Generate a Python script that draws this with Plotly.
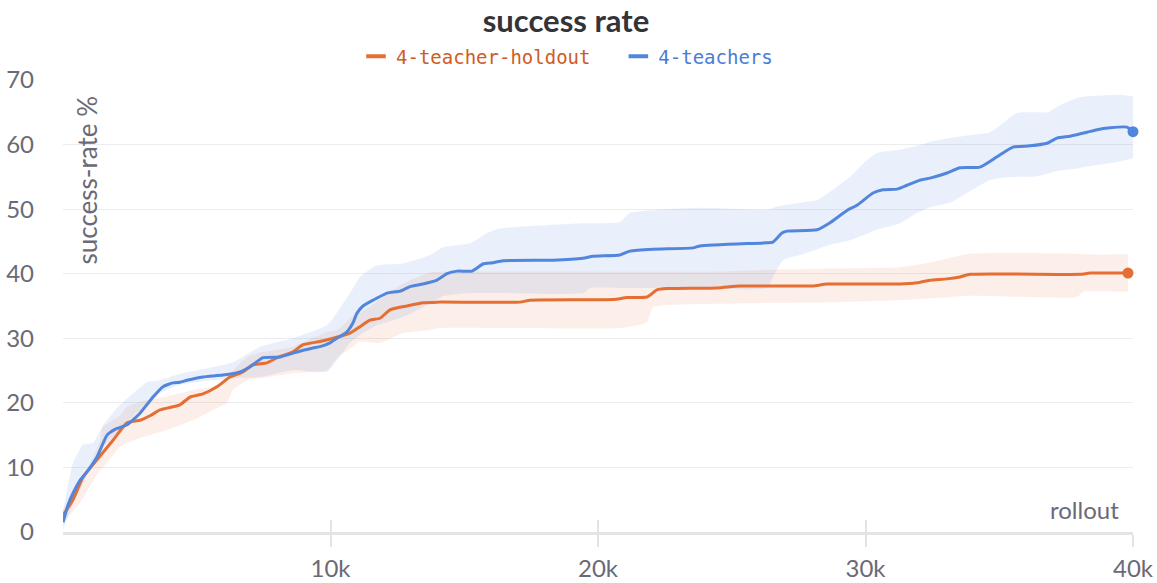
import plotly.graph_objects as go

# ---------------- data ----------------
holdout_x = [0, 374, 748, 1271, 1869, 2393, 2879, 3252, 3626, 4112, 4374, 4748, 5234, 5757,
             6243, 6729, 7103, 7626, 8000, 8598, 8972, 9607, 10093, 10729, 11103, 11477, 11850,
             12224, 12860, 13458, 13981, 17084, 17458, 20561, 21084, 21832, 22206, 22579, 24449,
             25308, 28037, 28561, 31290, 31925, 32411, 33047, 33533, 33907, 38019, 38393, 39813]
holdout_y = [2.6, 5.0, 8.5, 11.2, 14.2, 16.9, 17.3, 18.0, 18.9, 19.4, 19.7, 20.9, 21.4, 22.5,
             24.0, 24.8, 25.9, 26.2, 27.0, 27.9, 29.0, 29.5, 30.0, 30.8, 31.8, 32.8, 33.1,
             34.4, 35.0, 35.5, 35.6, 35.6, 35.9, 36.0, 36.3, 36.4, 37.5, 37.7, 37.8,
             38.1, 38.1, 38.4, 38.4, 38.6, 39.0, 39.2, 39.5, 39.9, 39.9, 40.1, 40.1]

holdout_band_x = [0, 636, 1383, 1495, 2131, 2393, 2991, 3888, 4860, 5607, 6131, 6355, 6879, 7364,
                  8598, 9869, 10243, 10841, 11103, 11850, 12710, 13720, 14093, 20822, 21832, 22056,
                  23813, 25047, 26542, 28785, 31290, 32523, 33907, 37907, 38131, 39813]
holdout_lo = [1.5, 4.5, 9.6, 10.0, 13.2, 13.8, 14.7, 15.8, 17.3, 18.9, 20.0, 22.0, 23.5, 23.8,
              24.6, 25.1, 27.0, 28.7, 29.5, 29.3, 30.8, 31.3, 31.6, 31.6, 32.5, 34.8,
              35.3, 35.4, 35.5, 35.6, 35.9, 36.2, 36.6, 36.4, 37.2, 37.2]
holdout_hi = [3.5, 7.5, 14.0, 16.3, 18.0, 19.4, 20.3, 21.0, 22.0, 22.5, 24.0, 25.0, 27.1, 27.8,
              28.7, 31.0, 31.3, 33.5, 33.9, 36.0, 38.5, 40.2, 40.3, 40.3, 40.3, 40.3,
              40.3, 40.4, 40.6, 40.8, 41.0, 41.8, 43.1, 43.1, 43.0, 43.0]

teachers_x = [0, 187, 374, 636, 897, 1271, 1645, 1944, 2393, 2879, 3364, 3738, 4112, 4374, 4636,
              5234, 5981, 6617, 6991, 7477, 8112, 8598, 9346, 9607, 9981, 10243, 10617, 10841,
              10991, 11215, 11589, 12112, 12598, 12972, 13458, 13981, 14355, 14729, 15290, 15701,
              16075, 16449, 18318, 19439, 19813, 20822, 21196, 22056, 23551, 23813, 26318, 26542,
              26878, 27065, 28187, 28673, 29308, 29682, 30280, 30654, 31178, 31551, 32037, 32411,
              33047, 33533, 34280, 34916, 35514, 36150, 36785, 37159, 37645, 38280, 38654, 39140,
              39776, 40000]
teachers_y = [1.5, 4.2, 6.0, 8.0, 9.3, 11.6, 15.0, 15.9, 16.6, 18.4, 20.9, 22.5, 23.1, 23.2, 23.5,
              24.0, 24.3, 24.8, 25.6, 27.0, 27.1, 27.7, 28.5, 28.7, 29.3, 30.0, 31.0, 32.4,
              33.9, 35.0, 35.9, 37.0, 37.3, 38.0, 38.4, 39.0, 40.0, 40.4, 40.4, 41.5,
              41.7, 42.0, 42.1, 42.4, 42.7, 42.9, 43.5, 43.8, 44.0, 44.3, 44.8, 44.9,
              46.3, 46.6, 46.8, 47.9, 49.8, 50.6, 52.5, 53.0, 53.1, 53.7, 54.5, 54.8,
              55.6, 56.4, 56.5, 58.1, 59.6, 59.8, 60.2, 61.0, 61.3, 61.9, 62.3, 62.6,
              62.7, 62.0]

teachers_band_x = [0, 374, 748, 1121, 1495, 2131, 2766, 3140, 3626, 4374, 6355, 7364, 8598, 9869,
                   10243, 10729, 11103, 11738, 12710, 13720, 14206, 15215, 15850, 16336, 19439,
                   19701, 20822, 21196, 23813, 26318, 26617, 26916, 27551, 28187, 28785, 29421,
                   30056, 30430, 31290, 31925, 32411, 33159, 33794, 34654, 35028, 35664, 36262,
                   36785, 37271, 37907, 38131, 39402, 40000]
teachers_lo = [0.3, 4.5, 7.5, 11.0, 13.2, 15.8, 18.5, 19.4, 21.5, 22.8, 23.8, 24.0, 25.1, 24.8,
               26.6, 29.3, 30.5, 32.0, 33.3, 35.4, 36.5, 37.0, 37.0, 37.0, 37.0,
               37.8, 37.8, 37.8, 37.8, 37.8, 40.1, 42.1, 42.9, 43.8, 44.6, 45.2,
               46.2, 46.8, 47.8, 49.4, 50.3, 51.0, 52.5, 54.5, 54.8, 55.0, 55.0,
               55.5, 56.0, 56.3, 56.5, 57.3, 57.9]
teachers_hi = [3.2, 10.7, 13.5, 13.8, 16.5, 19.7, 22.0, 23.2, 23.5, 24.5, 26.3, 28.7, 30.0, 32.0,
               34.0, 37.0, 39.5, 41.3, 41.6, 42.9, 44.1, 44.7, 46.3, 47.0, 47.8,
               47.8, 48.0, 49.4, 50.2, 49.9, 50.3, 50.6, 51.0, 51.4, 53.0, 55.0,
               57.6, 58.7, 59.2, 59.8, 60.4, 61.0, 61.4, 61.9, 63.0, 64.9, 65.0,
               65.0, 66.1, 67.2, 67.4, 67.7, 67.5]

series_names = ["4-teacher-holdout", "4-teachers"]
x_tick_vals = [10000, 20000, 30000, 40000]
x_tick_text = ["10k", "20k", "30k", "40k"]
y_tick_vals = [0, 10, 20, 30, 40, 50, 60, 70]

# ---------------- style ----------------
ORANGE = "rgb(229,110,50)"
ORANGE_TXT = "rgb(206,92,38)"
ORANGE_FILL = "rgba(232,112,52,0.11)"
BLUE = "rgb(82,134,220)"
BLUE_TXT = "rgb(72,124,214)"
BLUE_FILL = "rgba(82,134,220,0.12)"
GRAY = "rgb(106,106,118)"
AXIS_GRAY = "rgb(228,228,230)"
FONT = "Lato"

fig = go.Figure()

def band(x, lo, hi, fill):
    fig.add_trace(go.Scatter(x=x, y=lo, mode="lines", line=dict(width=0, shape="spline", smoothing=0.5),
                             showlegend=False, hoverinfo="skip"))
    fig.add_trace(go.Scatter(x=x, y=hi, mode="lines", line=dict(width=0, shape="spline", smoothing=0.5),
                             fill="tonexty", fillcolor=fill, showlegend=False, hoverinfo="skip"))

band(holdout_band_x, holdout_lo, holdout_hi, ORANGE_FILL)
band(teachers_band_x, teachers_lo, teachers_hi, BLUE_FILL)

for xs, ys, col in [(holdout_x, holdout_y, ORANGE), (teachers_x, teachers_y, BLUE)]:
    fig.add_trace(go.Scatter(x=xs, y=ys, mode="lines",
                             line=dict(color=col, width=3, shape="spline", smoothing=0.5),
                             showlegend=False))
    fig.add_trace(go.Scatter(x=[xs[-1]], y=[ys[-1]], mode="markers",
                             marker=dict(color=col, size=11), cliponaxis=False, showlegend=False))

# legend entries
for name, col, tcol, pad in [(series_names[0], ORANGE, ORANGE_TXT, "\u00a0\u00a0"),
                             (series_names[1], BLUE, BLUE_TXT, "")]:
    fig.add_trace(go.Scatter(x=[None], y=[None], mode="markers",
                             name=f'<span style="color:{tcol}">{name}</span>{pad}',
                             marker=dict(symbol="line-ew-open", size=14, color=col,
                                         line=dict(color=col, width=4))))

fig.update_layout(
    width=1157, height=583,
    margin=dict(l=63, r=24, t=80, b=51),
    paper_bgcolor="white", plot_bgcolor="white",
    title=dict(text="<b>success rate</b>", xref="container", x=566 / 1157, xanchor="center",
               y=1 - 21 / 583, yanchor="middle",
               font=dict(family=FONT, size=31, color="rgb(51,51,56)"), automargin=False),
    legend=dict(orientation="h", x=(567 - 63) / 1070, xanchor="center", y=1.052,
                yanchor="middle", traceorder="normal",
                font=dict(family="DejaVu Sans Mono", size=19), itemwidth=30,
                bgcolor="rgba(0,0,0,0)"),
    font=dict(family=FONT, color=GRAY),
    xaxis=dict(range=[0, 40000], tickvals=x_tick_vals, ticktext=x_tick_text, automargin=False,
               showgrid=False, zeroline=False, showline=True, linecolor=AXIS_GRAY, linewidth=3,
               ticks="outside", ticklen=12, tickwidth=2, tickcolor=AXIS_GRAY,
               ticklabelstandoff=1, tickfont=dict(family=FONT, size=24, color=GRAY)),
    xaxis2=dict(range=[0, 40000], overlaying="x", matches="x", anchor="y", side="bottom",
                automargin=False, tickvals=x_tick_vals, showticklabels=False, showgrid=False,
                zeroline=False, showline=False, ticks="inside", ticklen=12, tickwidth=2,
                tickcolor=AXIS_GRAY),
    yaxis=dict(range=[0, 70], tickvals=y_tick_vals, showgrid=True, gridcolor="rgb(236,236,238)",
               gridwidth=1, zeroline=False, showline=False, ticks="", ticklabelstandoff=28,
               automargin=False, tickfont=dict(family=FONT, size=24, color=GRAY)),
    annotations=[
        dict(text="success-rate %", xref="paper", yref="paper", x=0, y=1, xanchor="center",
             yanchor="top", xshift=23, yshift=-14, textangle=-90, showarrow=False,
             font=dict(family=FONT, size=26, color=GRAY)),
        dict(text="rollout", xref="paper", yref="paper", x=1, y=0, xanchor="right", yanchor="bottom",
             xshift=-12, yshift=6, showarrow=False, font=dict(family=FONT, size=24, color=GRAY)),
    ],
)
# dummy trace on xaxis2 so the overlay axis is drawn
fig.add_trace(go.Scatter(x=[None], y=[None], xaxis="x2", showlegend=False, hoverinfo="skip"))

fig.write_html("out.html", config={"displayModeBar": False},
               post_script="document.body.style.margin='0';document.body.style.overflow='hidden';")
